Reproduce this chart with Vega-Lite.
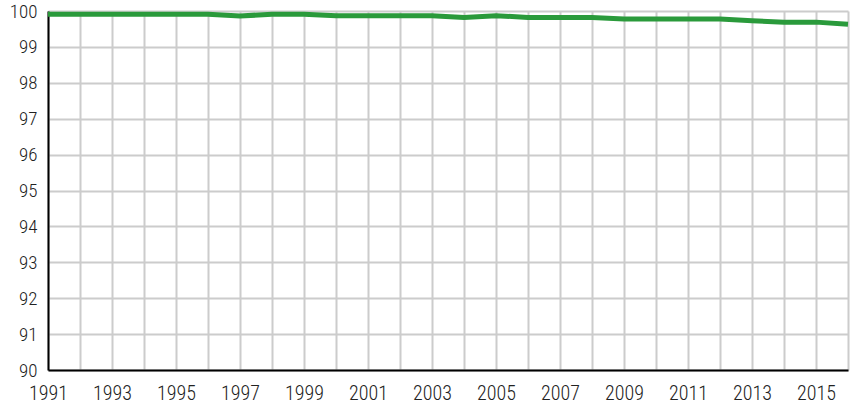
{
  "$schema": "https://vega.github.io/schema/vega-lite/v6.json",
  "autosize": {"type": "none"},
  "width": 800,
  "height": 359,
  "padding": {"left": 48, "top": 11, "right": 3, "bottom": 35},
  "background": "white",
  "config": {"view": {"stroke": null}},
  "data": {"values": [
    {"year": 1991, "value": 99.91},
    {"year": 1992, "value": 99.91},
    {"year": 1993, "value": 99.91},
    {"year": 1994, "value": 99.91},
    {"year": 1995, "value": 99.91},
    {"year": 1996, "value": 99.91},
    {"year": 1997, "value": 99.86},
    {"year": 1998, "value": 99.91},
    {"year": 1999, "value": 99.91},
    {"year": 2000, "value": 99.87},
    {"year": 2001, "value": 99.87},
    {"year": 2002, "value": 99.87},
    {"year": 2003, "value": 99.87},
    {"year": 2004, "value": 99.82},
    {"year": 2005, "value": 99.87},
    {"year": 2006, "value": 99.82},
    {"year": 2007, "value": 99.82},
    {"year": 2008, "value": 99.82},
    {"year": 2009, "value": 99.78},
    {"year": 2010, "value": 99.78},
    {"year": 2011, "value": 99.78},
    {"year": 2012, "value": 99.78},
    {"year": 2013, "value": 99.73},
    {"year": 2014, "value": 99.69},
    {"year": 2015, "value": 99.69},
    {"year": 2016, "value": 99.63}
  ]},
  "mark": {"type": "line", "color": "#2A9A3B", "strokeWidth": 5},
  "encoding": {
    "x": {
      "field": "year", "type": "quantitative",
      "scale": {"domain": [1991, 2016], "nice": false, "zero": false},
      "axis": {
        "title": null,
        "values": [1991,1992,1993,1994,1995,1996,1997,1998,1999,2000,2001,2002,2003,2004,2005,2006,2007,2008,2009,2010,2011,2012,2013,2014,2015,2016],
        "labelExpr": "datum.value % 2 == 1 ? datum.value + '' : ''",
        "grid": true, "gridColor": "#cccccc", "gridWidth": 2,
        "domainColor": "black", "domainWidth": 2,
        "ticks": false, "labelPadding": 13,
        "labelFontSize": 20, "labelColor": "#222222",
        "labelFont": "Roboto Condensed", "labelFontWeight": 300,
        "labelOverlap": false, "labelFlush": false
      }
    },
    "y": {
      "field": "value", "type": "quantitative",
      "scale": {"domain": [90, 100], "nice": false, "zero": false},
      "axis": {
        "title": null,
        "values": [90,91,92,93,94,95,96,97,98,99,100],
        "grid": true, "gridColor": "#cccccc", "gridWidth": 2,
        "domainColor": "black", "domainWidth": 2,
        "ticks": false, "labelPadding": 11,
        "labelFontSize": 19, "labelColor": "#222222",
        "labelFont": "Roboto Condensed", "labelFontWeight": 300,
        "labelOverlap": false, "labelFlush": false
      }
    }
  }
}
